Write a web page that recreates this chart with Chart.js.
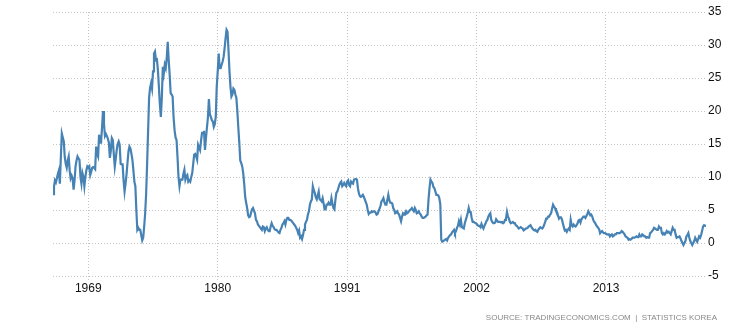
<!DOCTYPE html>
<html>
<head>
<meta charset="utf-8">
<script src="https://cdn.jsdelivr.net/npm/chart.js@4"></script>
<style>
  html, body { margin: 0; padding: 0; background: #fff; }
  canvas { display: block; }
</style>
</head>
<body>
<canvas id="chart" width="744" height="323"></canvas>
<script>
// monthly inflation rate (%)
const startYear = 1966;
const inflation1960s = [
  7.4, 8.5, 9.5, 9.2, 9.8, 10.5, 11.0, 9.0, 13.0, 16.6, 16.0, 15.4,
  13.0, 12.0, 11.4, 12.5, 13.1, 11.0, 9.8, 10.2, 9.8, 8.1, 9.5, 11.6,
  12.5, 13.1, 12.8, 12.6, 10.0, 9.0, 10.6, 10.0, 8.6, 10.0, 11.0, 11.6,
  11.4, 11.6, 10.3, 10.8, 11.4, 11.5, 11.4, 11.2, 14.6, 13.5, 13.1, 16.4,
];
const inflation1970s = [
  15.2, 15.2, 17.5, 20.0, 18.0, 16.2, 16.5, 16.2, 15.8, 15.2, 12.9, 14.0,
  15.9, 15.6, 13.5, 11.6, 12.8, 14.1, 15.0, 15.4, 14.9, 12.0, 11.9, 11.9,
  9.5, 7.8, 9.0, 10.4, 12.2, 13.9, 14.6, 14.3, 13.5, 12.6, 11.0, 9.3,
  8.6, 5.0, 2.0, 2.3, 2.0, 2.0, 1.2, 0.4, 0.8, 2.5, 4.5, 7.5,
  12.0, 17.0, 22.0, 23.5, 24.2, 23.4, 26.0, 28.7, 29.0, 27.7, 27.8, 26.2,
  23.7, 21.0, 19.1, 22.0, 26.7, 25.7, 27.0, 26.5, 28.0, 30.5, 27.7, 25.5,
  22.7, 22.5, 22.2, 19.0, 17.1, 16.0, 15.6, 13.0, 10.0, 8.6, 9.6, 9.6,
  9.6, 10.5, 11.1, 9.6, 10.1, 10.3, 9.3, 9.5, 9.3, 10.0, 10.6, 12.0,
  13.4, 13.5, 13.1, 12.6, 14.9, 14.5, 14.1, 15.5, 16.7, 16.7, 17.0, 14.1,
  15.9, 17.5, 19.0, 21.8, 19.5, 19.1, 18.6, 18.4, 17.6, 18.0, 19.1, 23.7,
];
const inflation1980s = [
  26.0, 28.7, 26.5, 26.5, 27.0, 27.5, 28.2, 29.5, 31.0, 32.3, 32.0, 29.2,
  26.0, 23.7, 22.2, 22.5, 23.4, 23.2, 22.5, 22.0, 20.0, 17.5, 15.2, 12.5,
  12.1, 11.6, 10.6, 9.0, 7.0, 6.1, 5.3, 4.2, 3.9, 4.0, 4.6, 5.1,
  5.3, 5.3, 4.5, 3.5, 3.3, 2.8, 2.6, 2.4, 2.2, 2.0, 2.5, 2.4,
  1.8, 2.2, 2.4, 2.0, 1.8, 1.8, 2.5, 3.0, 2.6, 2.4, 2.1, 2.0,
  2.0, 1.8, 1.6, 1.5, 2.0, 2.3, 2.8, 3.0, 3.3, 2.8, 3.5, 3.8,
  3.8, 3.5, 3.5, 3.4, 3.2, 3.0, 2.8, 2.6, 2.3, 2.0, 1.5, 1.9,
  0.8, 1.0, 0.6, 1.2, 2.0, 2.8, 3.2, 3.5, 4.3, 4.8, 5.8, 6.3,
  6.6, 8.6, 8.0, 7.6, 6.9, 6.6, 7.2, 7.8, 6.6, 6.5, 6.3, 6.8,
  6.0, 5.1, 5.1, 5.8, 5.8, 6.1, 5.8, 5.8, 6.8, 6.0, 5.3, 5.1,
];
const inflation1990s = [
  6.5, 7.6, 7.8, 8.3, 8.8, 9.1, 9.3, 8.6, 8.8, 9.1, 8.8, 8.6,
  9.3, 9.5, 8.8, 8.6, 9.3, 9.1, 9.0, 9.6, 9.6, 9.7, 9.6, 8.3,
  7.5, 7.1, 7.0, 7.1, 7.3, 7.0, 6.6, 6.2, 5.8, 5.0, 4.4, 4.6,
  4.6, 4.8, 4.7, 4.8, 4.8, 4.6, 4.3, 4.4, 4.8, 5.2, 5.6, 6.3,
  6.5, 6.8, 6.2, 5.8, 5.8, 6.5, 7.3, 6.5, 6.1, 6.1, 6.0, 5.3,
  5.0, 4.5, 4.6, 4.8, 4.5, 4.3, 3.8, 3.3, 4.0, 4.5, 4.3, 4.5,
  4.8, 4.5, 4.6, 4.8, 5.0, 5.1, 5.3, 5.0, 4.8, 5.3, 5.0, 4.5,
  4.6, 4.8, 4.5, 4.3, 4.0, 3.8, 3.8, 3.9, 4.0, 4.2, 4.3, 6.6,
  8.3, 9.6, 9.3, 9.1, 8.5, 8.3, 7.8, 7.3, 7.3, 7.2, 6.8, 5.9,
  0.5, 0.2, 0.3, 0.4, 0.5, 0.6, 0.4, 0.8, 1.0, 1.2, 1.3, 1.6,
];
const inflation2000s = [
  1.8, 2.0, 1.5, 1.8, 2.3, 2.6, 3.3, 2.8, 3.5, 2.4, 2.3, 2.2,
  3.0, 3.5, 4.0, 4.6, 5.3, 4.7, 4.7, 3.8, 3.2, 3.2, 3.1, 3.0,
  2.9, 2.7, 2.6, 2.6, 2.4, 2.9, 2.5, 2.2, 2.6, 2.9, 3.3, 3.5,
  4.0, 4.3, 4.5, 3.5, 3.2, 3.0, 3.0, 3.1, 3.6, 3.4, 3.2, 3.2,
  3.2, 3.1, 3.2, 3.0, 3.1, 3.5, 3.7, 4.7, 4.0, 3.7, 3.2, 3.0,
  3.1, 3.2, 3.0, 3.0, 2.7, 2.6, 2.4, 2.2, 2.3, 2.4, 2.3, 2.2,
  1.9, 2.0, 2.2, 2.2, 2.3, 2.5, 2.6, 2.7, 2.4, 2.2, 2.0, 1.9,
  2.0, 1.8, 1.7, 2.0, 2.2, 2.4, 2.3, 2.2, 2.4, 2.8, 3.2, 3.7,
  3.7, 4.0, 4.0, 4.3, 4.5, 5.2, 5.8, 5.5, 5.3, 4.9, 4.7, 4.2,
  3.7, 3.9, 3.9, 3.6, 3.0, 2.4, 1.9, 2.0, 1.7, 2.0, 2.2, 2.0,
];
const inflation2010s = [
  3.5, 2.7, 2.5, 2.8, 2.6, 2.5, 2.7, 3.0, 3.4, 3.5, 3.1, 3.6,
  3.8, 4.0, 4.0, 3.8, 4.1, 4.4, 4.8, 4.5, 4.2, 4.3, 4.0, 3.5,
  3.2, 3.0, 2.7, 2.5, 2.3, 2.1, 1.5, 1.7, 1.8, 1.6, 1.5, 1.5,
  1.4, 1.3, 1.3, 1.3, 1.0, 1.2, 1.3, 1.0, 1.1, 1.3, 1.3, 1.5,
  1.5, 1.5, 1.5, 1.6, 1.8, 1.7, 1.5, 1.3, 1.0, 0.9, 0.8, 0.5,
  0.6, 0.5, 0.6, 0.8, 0.8, 0.8, 0.9, 1.0, 0.9, 0.9, 1.3, 1.0,
  1.0, 1.3, 1.2, 1.0, 1.0, 0.8, 0.9, 0.8, 0.8, 1.5, 1.6, 1.8,
  2.0, 2.3, 2.2, 2.1, 2.0, 2.0, 2.5, 2.3, 2.3, 1.5, 1.3, 1.5,
  1.3, 1.5, 1.8, 1.6, 1.7, 1.5, 1.3, 1.8, 2.3, 2.0, 2.0, 1.3,
  0.8, 0.9, 0.9, 1.0, 0.7, 0.3, 0.0, -0.3, 0.0, 0.3, 1.0, 1.2,
];
const inflation2020s = [
  1.5, 0.8, 0.3, 0.0, -0.3, 0.0, 0.3, 0.8, 0.5, 0.2, 0.6, 1.0,
  0.8, 1.2, 1.8, 2.5, 2.7, 2.6, 2.7,
];

const xTickYears = [1969, 1980, 1991, 2002, 2013];
const yTickValues = [-5, 0, 5, 10, 15, 20, 25, 30, 35];
const sourceText = "SOURCE: TRADINGECONOMICS.COM  |  STATISTICS KOREA";

const allValues = [
  ...inflation1960s,
  ...inflation1970s,
  ...inflation1980s,
  ...inflation1990s,
  ...inflation2000s,
  ...inflation2010s,
  ...inflation2020s,
];
const points = allValues.map((value, index) => ({ x: startYear + index / 12, y: value }));

const fontFamily = "'Liberation Sans', Arial, sans-serif";
const gridColor = "#c4c4c4";
const labelFont = { family: fontFamily, size: 12 };

Chart.defaults.font.family = fontFamily;

// source line in the bottom right corner
const sourceNote = {
  id: "sourceNote",
  afterDraw(chart) {
    const ctx = chart.ctx;
    ctx.save();
    ctx.font = `8px ${fontFamily}`;
    ctx.fillStyle = "#888";
    ctx.textAlign = "right";
    ctx.textBaseline = "middle";
    ctx.fillText(sourceText, 717, 317.7);
    ctx.restore();
  },
};

new Chart(document.querySelector("#chart"), {
  type: "line",
  data: {
    datasets: [{
      data: points,
      borderColor: "#4682b4",
      borderWidth: 2.2,
      pointRadius: 0,
      tension: 0,
      fill: false,
    }],
  },
  options: {
    responsive: false,
    animation: false,
    devicePixelRatio: 1,
    layout: { padding: { left: 53, right: 0, top: 12, bottom: 10.1 } },
    plugins: {
      legend: { display: false },
      tooltip: { enabled: false },
    },
    scales: {
      x: {
        type: "linear",
        min: startYear,
        max: startYear + (allValues.length - 1) / 12,
        afterBuildTicks: (scale) => {
          scale.ticks = xTickYears.map((value) => ({ value }));
        },
        afterFit: (scale) => {
          scale.height = 36.9;
        },
        grid: {
          color: gridColor,
          tickLength: 6,
          tickColor: gridColor,
          tickBorderDash: [1, 2],
        },
        border: { display: false, dash: [1, 2] },
        ticks: {
          padding: -1,
          autoSkip: false,
          maxRotation: 0,
          color: "#111",
          font: labelFont,
          callback: (value) => String(value),
        },
      },
      y: {
        position: "right",
        min: -5,
        max: 35,
        afterBuildTicks: (scale) => {
          scale.ticks = yTickValues.map((value) => ({ value }));
        },
        afterFit: (scale) => {
          scale.width = 38;
        },
        grid: { color: gridColor, drawTicks: false },
        border: { display: false, dash: [1, 2] },
        ticks: {
          padding: 2,
          color: "#111",
          font: labelFont,
          callback: (value) => String(value),
        },
      },
    },
  },
  plugins: [sourceNote],
});
</script>
</body>
</html>
